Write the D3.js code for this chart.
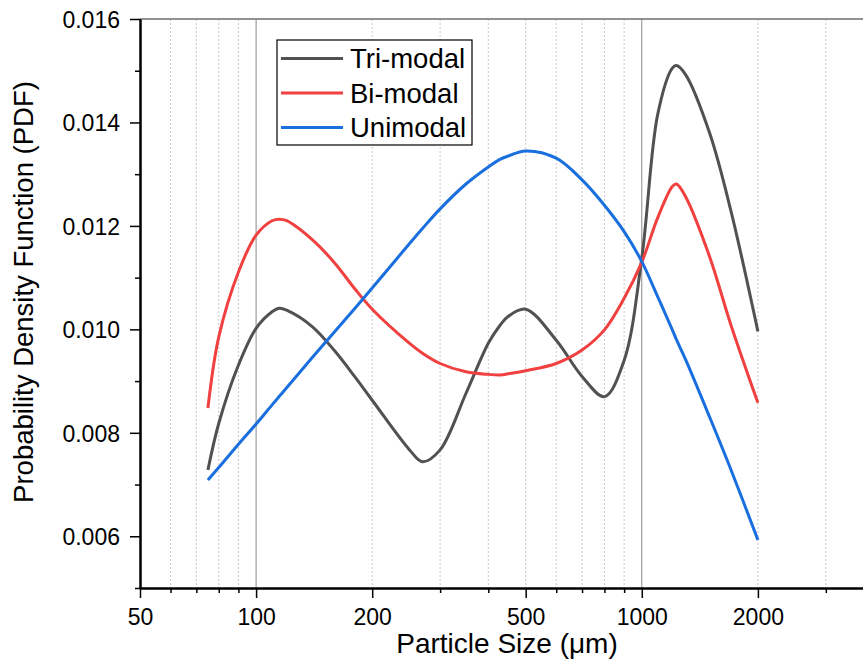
<!DOCTYPE html>
<html>
<head>
<meta charset="utf-8">
<script src="https://cdn.jsdelivr.net/npm/d3@7"></script>
<style>
  body { margin: 0; background: #fff; }
  svg { display: block; font-family: 'Liberation Sans', Arial, sans-serif; }
</style>
</head>
<body>
<svg id="chart" width="863" height="663"></svg>
<script>
// particle sizes (um) where the curves were read
const sizes = [75, 80, 90, 100, 110, 115, 120, 140, 160, 180, 200, 250, 270, 300, 350, 400, 430, 450, 500, 600, 700, 800, 900, 1000, 1100, 1200, 1230, 1300, 1500, 1700, 2000]

const triModal = [0.00728, 0.00818, 0.00931, 0.01002, 0.01034, 0.01041, 0.01037, 0.01005, 0.00958, 0.00909, 0.00863, 0.00767, 0.00744, 0.00767, 0.00876, 0.00973, 0.01009, 0.01025, 0.01039, 0.00979, 0.00909, 0.00870, 0.00940, 0.01138, 0.01416, 0.01505, 0.01510, 0.01492, 0.01379, 0.01231, 0.00996]
const biModal = [0.00848, 0.00985, 0.01111, 0.01182, 0.01210, 0.01213, 0.01210, 0.01173, 0.01128, 0.01079, 0.01039, 0.00973, 0.00954, 0.00934, 0.00918, 0.00913, 0.00912, 0.00914, 0.00920, 0.00934, 0.00960, 0.00999, 0.01060, 0.01130, 0.01216, 0.01276, 0.01281, 0.01256, 0.01140, 0.01010, 0.00858]
const uniModal = [0.00709, 0.00733, 0.00778, 0.00817, 0.00854, 0.00871, 0.00887, 0.00946, 0.00996, 0.01040, 0.01080, 0.01166, 0.01195, 0.01233, 0.01281, 0.01314, 0.01329, 0.01335, 0.01345, 0.01331, 0.01289, 0.01240, 0.01189, 0.01131, 0.01063, 0.00999, 0.00980, 0.00941, 0.00830, 0.00730, 0.00593]

const seriesNames = ['Tri-modal', 'Bi-modal', 'Unimodal']
const seriesColors = ['#515151', '#F14040', '#1A6FDF']

const xLabelTicks = [50, 100, 200, 500, 1000, 2000]
const xMinorTicks = [60, 70, 80, 90, 300, 400, 600, 700, 800, 900, 3000]
const xSolidGrid = [100, 1000]
const yMajorTicks = [0.006, 0.008, 0.010, 0.012, 0.014, 0.016]
const yMinorTicks = [0.005, 0.007, 0.009, 0.011, 0.013, 0.015]

const svg = d3.select('#chart')
const plotLeft = 140
const plotTop = 19
const plotBottom = 588
const plotRight = 874

const x = d3.scaleLog().domain([50, 4000]).range([plotLeft, plotRight])
const y = d3.scaleLinear().domain([0.005, 0.016]).range([plotBottom, plotTop])

// vertical grid
const grid = svg.append('g')
grid.selectAll('line.minor')
  .data(xMinorTicks.concat([200, 500, 2000]))
  .join('line')
  .attr('class', 'minor')
  .attr('x1', d => x(d)).attr('x2', d => x(d))
  .attr('y1', plotTop).attr('y2', plotBottom)
  .attr('stroke', '#c8c8c8')
  .attr('stroke-width', 1)
  .attr('stroke-dasharray', '2,2')
grid.selectAll('line.major')
  .data(xSolidGrid)
  .join('line')
  .attr('class', 'major')
  .attr('x1', d => x(d)).attr('x2', d => x(d))
  .attr('y1', plotTop).attr('y2', plotBottom)
  .attr('stroke', '#8a8a8a')
  .attr('stroke-width', 1)

// top frame
svg.append('line')
  .attr('x1', plotLeft).attr('x2', plotRight)
  .attr('y1', plotTop).attr('y2', plotTop)
  .attr('stroke', '#6e6e6e')
  .attr('stroke-width', 1.5)

// curves
const lineGen = d3.line()
  .x(d => x(d.size))
  .y(d => y(d.value))
  .curve(d3.curveCatmullRom.alpha(0.5))

const allSeries = [triModal, biModal, uniModal]
allSeries.forEach((vals, i) => {
  const pts = sizes.map((s, j) => ({ size: s, value: vals[j] }))
  svg.append('path')
    .attr('d', lineGen(pts))
    .attr('fill', 'none')
    .attr('stroke', seriesColors[i])
    .attr('stroke-width', 3)
    .attr('stroke-linejoin', 'round')
})

// x axis
const xAxis = svg.append('g').attr('transform', `translate(0,${plotBottom})`)
xAxis.call(d3.axisBottom(x).tickValues(xLabelTicks).tickFormat(d3.format('d')).tickSize(10).tickSizeOuter(0))
xAxis.append('g').call(d3.axisBottom(x).tickValues(xMinorTicks).tickFormat('').tickSize(5).tickSizeOuter(0))
xAxis.selectAll('.domain').attr('stroke', '#000').attr('stroke-width', 2)
xAxis.selectAll('.tick line').attr('stroke', '#000').attr('stroke-width', 1.5)
xAxis.selectAll('.tick text')
  .attr('fill', '#000')
  .attr('font-size', 23)
  .attr('font-family', "'Liberation Sans', Arial, sans-serif")
  .attr('y', 37).attr('dy', 0)

// y axis
const yAxis = svg.append('g').attr('transform', `translate(${plotLeft},0)`)
yAxis.call(d3.axisLeft(y).tickValues(yMajorTicks).tickFormat(d3.format('.3f')).tickSize(10).tickSizeOuter(0))
yAxis.append('g').call(d3.axisLeft(y).tickValues(yMinorTicks).tickFormat('').tickSize(5).tickSizeOuter(0))
yAxis.selectAll('.domain').attr('stroke', '#000').attr('stroke-width', 2)
yAxis.selectAll('.tick line').attr('stroke', '#000').attr('stroke-width', 1.5)
yAxis.selectAll('.tick text')
  .attr('fill', '#000')
  .attr('font-size', 23)
  .attr('font-family', "'Liberation Sans', Arial, sans-serif")
  .attr('x', -20).attr('dy', '0.36em')

// axis titles
svg.append('text')
  .attr('x', (plotLeft + plotRight) / 2)
  .attr('y', 653)
  .attr('text-anchor', 'middle')
  .attr('font-size', 28)
  .text('Particle Size (μm)')

svg.append('text')
  .attr('transform', 'translate(33,292) rotate(-90)')
  .attr('text-anchor', 'middle')
  .attr('font-size', 27.5)
  .text('Probability Density Function (PDF)')

// legend
const legend = svg.append('g').attr('transform', 'translate(277,40)')
legend.append('rect')
  .attr('width', 195).attr('height', 105)
  .attr('fill', '#fff')
  .attr('stroke', '#000')
  .attr('stroke-width', 1.2)
seriesNames.forEach((name, i) => {
  const ly = 18.5 + i * 34.5
  legend.append('line')
    .attr('x1', 4).attr('x2', 66)
    .attr('y1', ly).attr('y2', ly)
    .attr('stroke', seriesColors[i])
    .attr('stroke-width', 3)
  legend.append('text')
    .attr('x', 73).attr('y', ly + 9.5)
    .attr('font-size', 27.5)
    .text(name)
})
</script>
</body>
</html>
